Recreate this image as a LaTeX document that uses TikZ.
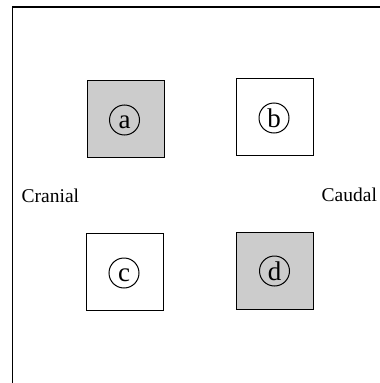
\documentclass[tikz,border=0pt]{standalone}
\usepackage{fontspec}
\setmainfont{Liberation Serif}
\begin{document}
\begin{tikzpicture}[x=1pt,y=-1pt,
  regionbox/.style={draw=black, line width=1pt, minimum width=77pt, minimum height=77pt, inner sep=0pt, outer sep=0pt},
  shaded/.style={regionbox, fill=black!20},
  plain/.style={regionbox, fill=white},
  letterring/.style={draw=black, line width=1pt, circle, minimum size=30pt, inner sep=0pt},
  ringletter/.style={font=\fontsize{27}{27}\selectfont, inner sep=0pt},
  sidelabel/.style={font=\fontsize{19.5}{20}\selectfont, inner sep=0pt, anchor=base west}
]
\useasboundingbox (0,0) rectangle (380,383);
\fill[white] (0,0) rectangle (380,383);
% frame (left and top edges visible)
\coordinate (frameBL) at (12.3,383);
\coordinate (frameTL) at (12.3,6.8);
\coordinate (frameTR) at (380,6.8);
\draw[line width=1.4pt] (frameBL) -- (frameTL) -- (frameTR);
% boxes
\node[shaded] (boxa) at (125.5,118.5) {};
\node[plain]  (boxb) at (275,117) {};
\node[plain]  (boxc) at (125,272) {};
\node[shaded] (boxd) at (275,270.5) {};
% lettered circles
\node[letterring] (ca) at (124.5,120) {};
\node[letterring] (cb) at (274,118) {};
\node[letterring] (cc) at (124,273) {};
\node[letterring] (cd) at (274.5,271) {};
\node[ringletter, anchor=base] (la) at (124.5,128.5) {a};
\node[ringletter, anchor=base] (lb) at (274,127.5) {b};
\node[ringletter, anchor=base] (lc) at (124,281.5) {c};
\node[ringletter, anchor=base] (ld) at (274.5,280.5) {d};
% side labels
\node[sidelabel] (cranial) at (21.5,202) {Cranial};
\node[sidelabel] (caudal) at (321.5,201.5) {Caudal};
\end{tikzpicture}
\end{document}
